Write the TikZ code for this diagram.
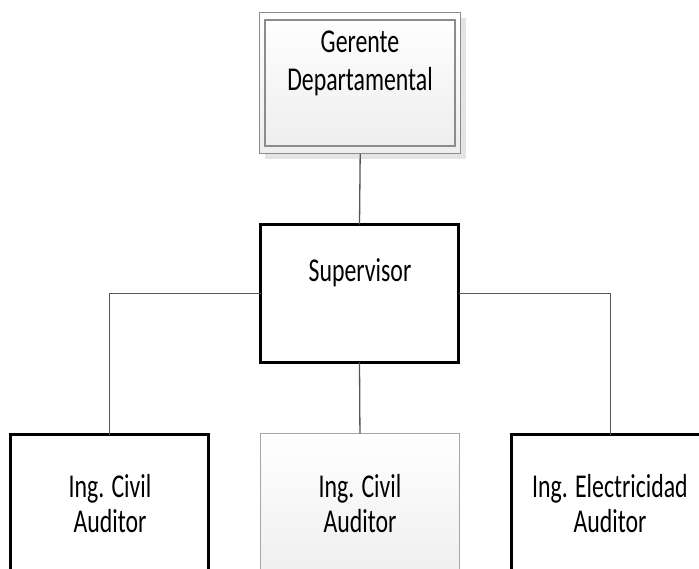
\documentclass[tikz,border=0pt]{standalone}
\usepackage{fontspec}
\setmainfont{Carlito}
\usepackage{graphicx}
\definecolor{connline}{HTML}{555555}
\definecolor{framegray}{HTML}{8C8C8C}
\definecolor{shadegray}{HTML}{E4E4E4}
\definecolor{midframe}{HTML}{A6A6A6}
\newcommand{\stretchtext}[2]{\scalebox{1}[1.4]{\fontsize{23.8}{#1}\selectfont\begin{tabular}{@{}c@{}}#2\end{tabular}}}
\begin{document}
\begin{tikzpicture}[x=1pt,y=-1pt,
  boxbase/.style={rectangle, outer sep=0pt, inner sep=0pt, anchor=north west},
  thickbox/.style={boxbase, draw=black, line width=3pt, fill=white},
  shadowbox/.style={boxbase, fill=shadegray},
  gerouter/.style={boxbase, draw=framegray, line width=1.4pt, top color=white, bottom color=black!7},
  gerinner/.style={boxbase, draw=framegray, line width=1.4pt},
  midbox/.style={boxbase, draw=midframe, line width=1.4pt, top color=white, bottom color=black!9},
  conn/.style={draw=connline, line width=1.3pt},
  lbl/.style={inner sep=0pt, outer sep=0pt, text=black}]
\useasboundingbox (0,0) rectangle (699,569);
\clip (0,0) rectangle (699,569);
% top box
\node[shadowbox, minimum width=201pt, minimum height=141pt] (gershadow) at (265,18) {};
\node[gerouter, minimum width=201pt, minimum height=141pt] (ger) at (259.7,12.7) {};
\node[gerinner, minimum width=190pt, minimum height=126pt] (gerin) at (265,20) {};
% supervisor
\node[thickbox, minimum width=198pt, minimum height=138pt] (sup) at (260.5,224.5) {};
% bottom boxes
\node[thickbox, minimum width=198pt, minimum height=200pt] (left) at (10.5,434.5) {};
\node[midbox, minimum width=198.5pt, minimum height=200pt] (mid) at (260.7,433.7) {};
\node[thickbox, minimum width=198pt, minimum height=200pt] (right) at (511.5,434.5) {};
% connectors
\draw[conn] (ger.south) -- (sup.north);
\draw[conn] (sup.west) -| (left.north);
\draw[conn] (sup.east) -| (right.north);
\draw[conn] (sup.south) -- (mid.north);
% texts
\node[lbl] (gertext) at (360,64) {\stretchtext{27}{Gerente\\Departamental}};
\node[lbl] (suptext) at (360,274) {\stretchtext{27}{Supervisor}};
\node[lbl] (lefttext) at (110,508) {\stretchtext{25}{Ing. Civil\\Auditor}};
\node[lbl] (midtext) at (360,508) {\stretchtext{25}{Ing. Civil\\Auditor}};
\node[lbl] (righttext) at (610,508) {\stretchtext{25}{Ing. Electricidad\\Auditor}};
\end{tikzpicture}
\end{document}
